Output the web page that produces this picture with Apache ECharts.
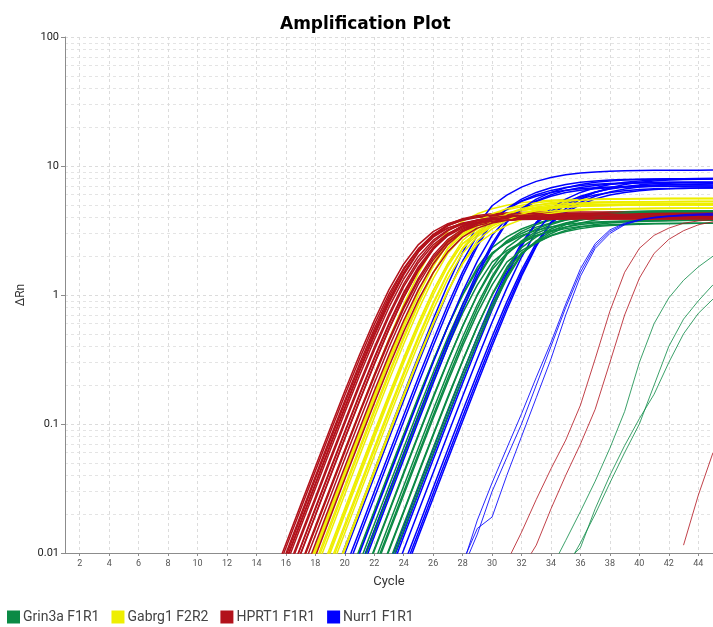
<!DOCTYPE html>
<html>
<head>
<meta charset="utf-8">
<script src="https://cdn.jsdelivr.net/npm/echarts@6/dist/echarts.min.js"></script>
<style>
html,body{margin:0;padding:0;background:#fff;}
#chart{width:713px;height:627px;}
</style>
</head>
<body>
<div id="chart"></div>
<script>
// ---------- data (ΔRn per cycle; each curve starts at its group's start cycle) ----------
const xTickLabels = [2,4,6,8,10,12,14,16,18,20,22,24,26,28,30,32,34,36,38,40,42,44];
const yTickLabels = [0.01,0.1,1,10,100];
const seriesNames = ['Grin3a F1R1','Gabrg1 F2R2','HPRT1 F1R1','Nurr1 F1R1'];

const hprt1Start = 14;
const hprt1 = [
 [0.003,0.0059,0.0118,0.0235,0.0466,0.092,0.18,0.344,0.634,1.1,1.74,2.46,3.1,3.57,3.86,4.02,4.11,4.15,4.18,4.19,4.2,4.2,4.2,4.2,4.2,4.2,4.2,4.2,4.2,4.2,4.2,4.2],
 [0.0028,0.0055,0.011,0.0218,0.0433,0.0854,0.167,0.319,0.589,1.02,1.61,2.29,2.88,3.31,3.58,3.73,3.81,3.86,3.88,3.89,3.9,3.9,3.9,3.9,3.9,3.9,3.9,3.9,3.9,3.9,3.9,3.9],
 [0.0024,0.0048,0.0094,0.0188,0.0374,0.074,0.145,0.279,0.52,0.92,1.49,2.17,2.81,3.3,3.62,3.8,3.9,3.95,3.97,3.99,4.0,4.0,4.0,4.0,4.0,4.0,4.0,4.0,4.0,4.0,4.0,4.0],
 [0.0025,0.005,0.0099,0.0197,0.0393,0.0777,0.152,0.293,0.546,0.966,1.57,2.28,2.95,3.47,3.8,3.99,4.09,4.15,4.17,4.19,4.2,4.2,4.2,4.2,4.2,4.2,4.2,4.2,4.2,4.2,4.2,4.2],
 [0.002,0.004,0.008,0.0159,0.0315,0.0624,0.123,0.238,0.448,0.804,1.33,2.0,2.66,3.2,3.55,3.76,3.88,3.94,3.97,3.98,3.99,4.0,4.0,4.0,4.0,4.0,4.0,4.0,4.0,4.0,4.0,4.0],
 [0.0022,0.0044,0.0088,0.0175,0.0346,0.0686,0.135,0.262,0.493,0.884,1.47,2.2,2.93,3.52,3.91,4.14,4.26,4.33,4.36,4.38,4.39,4.4,4.4,4.4,4.4,4.4,4.4,4.4,4.4,4.4,4.4,4.4],
 [0.0017,0.0034,0.0069,0.0137,0.0271,0.054,0.106,0.207,0.393,0.715,1.22,1.87,2.57,3.16,3.57,3.81,3.95,4.02,4.06,4.08,4.09,4.1,4.1,4.1,4.1,4.1,4.1,4.1,4.1,4.1,4.1,4.1],
 [0.0016,0.0033,0.0066,0.013,0.0258,0.0513,0.101,0.197,0.374,0.681,1.16,1.78,2.45,3.0,3.39,3.63,3.76,3.83,3.86,3.88,3.89,3.9,3.9,3.9,3.9,3.9,3.9,3.9,3.9,3.9,3.9,3.9],
 [0.0014,0.0028,0.0056,0.0112,0.0224,0.0444,0.0876,0.171,0.327,0.604,1.05,1.66,2.34,2.95,3.4,3.67,3.83,3.91,3.96,3.98,3.99,4.0,4.0,4.0,4.0,4.0,4.0,4.0,4.0,4.0,4.0,4.0],
 [0.0012,0.0025,0.0049,0.0098,0.0195,0.0388,0.0768,0.15,0.289,0.54,0.955,1.55,2.25,2.92,3.43,3.75,3.94,4.04,4.1,4.12,4.14,4.15,4.15,4.15,4.15,4.15,4.15,4.15,4.15,4.15,4.15,4.15],
 [0.001,0.002,0.0039,0.0078,0.0155,0.0307,0.0608,0.12,0.232,0.437,0.784,1.3,1.95,2.6,3.12,3.46,3.67,3.78,3.84,3.87,3.88,3.89,3.9,3.9,3.9,3.9,3.9,3.9,3.9,3.9,3.9,3.9],
 [0.0021,0.0043,0.0086,0.0171,0.0338,0.0671,0.132,0.256,0.482,0.864,1.43,2.15,2.86,3.44,3.82,4.05,4.17,4.23,4.27,4.28,4.29,4.3,4.3,4.3,4.3,4.3,4.3,4.3,4.3,4.3,4.3,4.3],
 [0.001,0.002,0.004,0.0081,0.0161,0.0319,0.0632,0.124,0.241,0.454,0.814,1.35,2.03,2.7,3.24,3.6,3.81,3.92,3.99,4.02,4.03,4.04,4.05,4.05,4.05,4.05,4.05,4.05,4.05,4.05,4.05,4.05],
 [0.0009,0.0017,0.0034,0.0069,0.0137,0.0271,0.054,0.106,0.207,0.393,0.715,1.22,1.87,2.57,3.16,3.57,3.81,3.95,4.02,4.06,4.08,4.09,4.1,4.1,4.1,4.1,4.1,4.1,4.1,4.1,4.1,4.1],
 [0.0008,0.0015,0.003,0.0059,0.0118,0.0235,0.0466,0.092,0.18,0.344,0.634,1.1,1.74,2.46,3.1,3.57,3.86,4.02,4.11,4.15,4.18,4.19,4.2,4.2,4.2,4.2,4.2,4.2,4.2,4.2,4.2,4.2],
 [0.0006,0.0012,0.0024,0.0048,0.0094,0.0188,0.0374,0.074,0.145,0.279,0.52,0.92,1.49,2.17,2.81,3.3,3.62,3.8,3.9,3.95,3.97,3.99,4.0,4.0,4.0,4.0,4.0,4.0,4.0,4.0,4.0,4.0],
 [0.0014,0.0028,0.0055,0.011,0.0218,0.0433,0.0854,0.167,0.319,0.589,1.02,1.61,2.29,2.88,3.31,3.58,3.73,3.81,3.86,3.88,3.89,3.9,3.9,3.9,3.9,3.9,3.9,3.9,3.9,3.9,3.9,3.9],
 [0.0012,0.0025,0.005,0.0099,0.0197,0.0393,0.0777,0.152,0.293,0.546,0.966,1.57,2.28,2.95,3.47,3.8,3.99,4.09,4.15,4.17,4.19,4.2,4.2,4.2,4.2,4.2,4.2,4.2,4.2,4.2,4.2,4.2]
];
const hprt1LateStart = 30;
const hprt1Late = [
 [0.005,0.0085,0.0145,0.026,0.045,0.075,0.14,0.32,0.75,1.5,2.3,2.9,3.3,3.6,3.75,3.85],
 [0.0035,0.005,0.0075,0.0115,0.022,0.04,0.07,0.13,0.3,0.7,1.35,2.1,2.7,3.15,3.5,3.7],
 [null,null,null,null,null,null,null,null,null,null,null,null,null,0.0115,0.028,0.06]
];

const gabrg1Start = 16;
const gabrg1 = [
 [0.004,0.0079,0.0157,0.0313,0.0622,0.123,0.24,0.458,0.846,1.47,2.32,3.12,3.73,4.26,4.66,4.97,5.19,5.33,5.43,5.49,5.53,5.56,5.57,5.58,5.59,5.6,5.6,5.6,5.6,5.6],
 [0.0028,0.0056,0.0111,0.0221,0.0439,0.087,0.17,0.328,0.611,1.08,1.75,2.49,3.01,3.47,3.84,4.12,4.31,4.45,4.54,4.6,4.63,4.66,4.67,4.68,4.69,4.7,4.7,4.7,4.7,4.7],
 [0.0026,0.0053,0.0105,0.021,0.0417,0.0827,0.163,0.315,0.594,1.07,1.76,2.65,3.25,3.79,4.23,4.57,4.82,4.99,5.1,5.17,5.22,5.25,5.27,5.28,5.29,5.29,5.3,5.3,5.3,5.3],
 [0.0025,0.005,0.00995,0.0199,0.0394,0.078,0.154,0.298,0.56,1.0,1.67,2.5,3.07,3.58,4.0,4.32,4.55,4.71,4.81,4.88,4.92,4.95,4.97,4.98,4.99,5.0,5.0,5.0,5.0,5.0],
 [0.0021,0.0042,0.0084,0.0167,0.0331,0.0658,0.13,0.252,0.479,0.873,1.49,2.29,2.93,3.46,3.9,4.25,4.5,4.67,4.79,4.87,4.91,4.95,4.97,4.98,4.99,5.0,5.0,5.0,5.0,5.0],
 [0.0018,0.0036,0.0072,0.0143,0.0285,0.0566,0.112,0.218,0.417,0.77,1.34,2.11,2.84,3.4,3.88,4.25,4.53,4.72,4.86,4.94,5.0,5.04,5.06,5.07,5.08,5.09,5.1,5.1,5.1,5.1],
 [0.002,0.004,0.0079,0.0157,0.0313,0.0622,0.123,0.24,0.458,0.846,1.47,2.32,3.12,3.73,4.26,4.66,4.97,5.19,5.33,5.43,5.49,5.53,5.56,5.57,5.58,5.59,5.6,5.6,5.6,5.6],
 [0.0014,0.0028,0.0056,0.0111,0.0221,0.0439,0.087,0.17,0.328,0.611,1.08,1.75,2.49,3.01,3.47,3.84,4.12,4.31,4.45,4.54,4.6,4.63,4.66,4.67,4.68,4.69,4.7,4.7,4.7,4.7],
 [0.0013,0.0026,0.0053,0.0105,0.021,0.0417,0.0827,0.163,0.315,0.594,1.07,1.76,2.65,3.25,3.79,4.23,4.57,4.82,4.99,5.1,5.17,5.22,5.25,5.27,5.28,5.29,5.29,5.3,5.3,5.3],
 [0.0012,0.0025,0.005,0.00995,0.0199,0.0394,0.078,0.154,0.298,0.56,1.0,1.67,2.5,3.07,3.58,4.0,4.32,4.55,4.71,4.81,4.88,4.92,4.95,4.97,4.98,4.99,5.0,5.0,5.0,5.0],
 [0.001,0.0021,0.0042,0.0084,0.0167,0.0331,0.0658,0.13,0.252,0.479,0.873,1.49,2.29,2.93,3.46,3.9,4.25,4.5,4.67,4.79,4.87,4.91,4.95,4.97,4.98,4.99,5.0,5.0,5.0,5.0],
 [0.0009,0.0018,0.0036,0.0072,0.0143,0.0285,0.0566,0.112,0.218,0.417,0.77,1.34,2.11,2.84,3.4,3.88,4.25,4.53,4.72,4.86,4.94,5.0,5.04,5.06,5.07,5.08,5.09,5.1,5.1,5.1],
 [0.0007,0.0014,0.0028,0.0056,0.0111,0.0221,0.0439,0.087,0.17,0.328,0.611,1.08,1.75,2.49,3.01,3.47,3.84,4.12,4.31,4.45,4.54,4.6,4.63,4.66,4.67,4.68,4.69,4.7,4.7,4.7],
 [0.001,0.002,0.004,0.0079,0.0157,0.0313,0.0622,0.123,0.24,0.458,0.846,1.47,2.32,3.12,3.73,4.26,4.66,4.97,5.19,5.33,5.43,5.49,5.53,5.56,5.57,5.58,5.59,5.6,5.6,5.6],
 [0.0007,0.0013,0.0026,0.0053,0.0105,0.021,0.0417,0.0827,0.163,0.315,0.594,1.07,1.76,2.65,3.25,3.79,4.23,4.57,4.82,4.99,5.1,5.17,5.22,5.25,5.27,5.28,5.29,5.29,5.3,5.3]
];

const grin3aStart = 19;
const grin3a = [
 [0.0026,0.0052,0.0104,0.0207,0.0411,0.0814,0.159,0.307,0.572,1.01,1.64,2.33,2.82,3.25,3.59,3.85,4.04,4.17,4.25,4.3,4.34,4.36,4.38,4.39,4.39,4.4,4.4],
 [0.0027,0.0054,0.0107,0.0212,0.0422,0.0832,0.163,0.311,0.574,1.0,1.57,2.12,2.53,2.89,3.17,3.37,3.52,3.62,3.68,3.72,3.75,3.77,3.78,3.79,3.79,3.8,3.8],
 [0.0021,0.0042,0.0084,0.0167,0.0331,0.0655,0.129,0.25,0.47,0.844,1.4,2.1,2.57,3.0,3.36,3.62,3.82,3.95,4.04,4.1,4.13,4.16,4.17,4.18,4.19,4.2,4.2],
 [0.0019,0.0038,0.0076,0.015,0.0298,0.0592,0.117,0.227,0.431,0.785,1.34,2.06,2.63,3.11,3.51,3.82,4.05,4.2,4.31,4.38,4.42,4.45,4.47,4.48,4.49,4.49,4.5],
 [0.0014,0.0027,0.0054,0.0107,0.0212,0.0422,0.0832,0.163,0.311,0.574,1.0,1.57,2.12,2.53,2.89,3.17,3.37,3.52,3.62,3.68,3.72,3.75,3.77,3.78,3.79,3.79,3.8],
 [0.0013,0.0026,0.0052,0.0104,0.0207,0.0411,0.0814,0.159,0.307,0.572,1.01,1.64,2.33,2.82,3.25,3.59,3.85,4.04,4.17,4.25,4.3,4.34,4.36,4.38,4.39,4.39,4.4],
 [0.0018,0.0036,0.0072,0.0143,0.0283,0.0562,0.111,0.214,0.403,0.724,1.2,1.8,2.21,2.57,2.88,3.11,3.27,3.39,3.46,3.51,3.54,3.56,3.58,3.59,3.6,3.6,3.6],
 [0.0011,0.0021,0.0042,0.0084,0.0167,0.0331,0.0655,0.129,0.25,0.47,0.844,1.4,2.1,2.57,3.0,3.36,3.62,3.82,3.95,4.04,4.1,4.13,4.16,4.17,4.18,4.19,4.2],
 [0.001,0.0019,0.0038,0.0076,0.015,0.0298,0.0592,0.117,0.227,0.431,0.785,1.34,2.06,2.63,3.11,3.51,3.82,4.05,4.2,4.31,4.38,4.42,4.45,4.47,4.48,4.49,4.49],
 [0.0007,0.0014,0.0027,0.0054,0.0107,0.0212,0.0422,0.0832,0.163,0.311,0.574,1.0,1.57,2.12,2.53,2.89,3.17,3.37,3.52,3.62,3.68,3.72,3.75,3.77,3.78,3.79,3.79],
 [0.0007,0.0013,0.0026,0.0052,0.0104,0.0207,0.0411,0.0814,0.159,0.307,0.572,1.01,1.64,2.33,2.82,3.25,3.59,3.85,4.04,4.17,4.25,4.3,4.34,4.36,4.38,4.39,4.39],
 [0.0009,0.0018,0.0036,0.0072,0.0143,0.0283,0.0562,0.111,0.214,0.403,0.724,1.2,1.8,2.21,2.57,2.88,3.11,3.27,3.39,3.46,3.51,3.54,3.56,3.58,3.59,3.6,3.6],
 [0.0005,0.0011,0.0021,0.0042,0.0084,0.0167,0.0331,0.0655,0.129,0.25,0.47,0.844,1.4,2.1,2.57,3.0,3.36,3.62,3.82,3.95,4.04,4.1,4.13,4.16,4.17,4.18,4.19],
 [0.0005,0.001,0.0019,0.0038,0.0076,0.015,0.0298,0.0592,0.117,0.227,0.431,0.785,1.34,2.06,2.63,3.11,3.51,3.82,4.05,4.2,4.31,4.38,4.42,4.45,4.47,4.48,4.49]
];
const grin3aLateStart = 33;
const grin3aLate = [
 [0.005,0.0075,0.0125,0.021,0.036,0.065,0.125,0.3,0.6,0.95,1.3,1.65,2.0],
 [null,0.0045,0.0075,0.012,0.02,0.035,0.06,0.1,0.2,0.4,0.65,0.9,1.2],
 [null,null,0.0085,0.011,0.022,0.04,0.068,0.11,0.17,0.3,0.5,0.72,0.93]
];

const nurr1Start = 18;
const nurr1 = [
 [0.0025,0.005,0.0099,0.0197,0.0391,0.0777,0.153,0.3,0.573,1.06,1.83,2.9,3.9,4.66,5.32,5.83,6.22,6.48,6.66,6.78,6.86,6.91,6.94,6.97,6.98,6.99,6.99,7.0],
 [0.0028,0.0056,0.0111,0.0219,0.0437,0.087,0.172,0.337,0.648,1.21,2.14,3.47,4.92,5.95,6.86,7.6,8.15,8.54,8.81,8.98,9.1,9.17,9.22,9.25,9.27,9.28,9.29,9.3],
 [0.0019,0.0038,0.0075,0.0149,0.0298,0.059,0.117,0.23,0.446,0.84,1.51,2.5,3.75,4.6,5.36,5.99,6.47,6.82,7.06,7.22,7.32,7.38,7.43,7.45,7.47,7.48,7.49,7.49],
 [0.0017,0.0034,0.0067,0.0134,0.0267,0.053,0.105,0.207,0.403,0.766,1.4,2.38,3.66,4.68,5.53,6.24,6.79,7.19,7.47,7.66,7.78,7.86,7.91,7.94,7.96,7.98,7.99,7.99],
 [0.0012,0.0025,0.005,0.0099,0.0197,0.0391,0.0777,0.153,0.3,0.573,1.06,1.83,2.9,3.9,4.66,5.32,5.83,6.22,6.48,6.66,6.78,6.86,6.91,6.94,6.97,6.98,6.99,6.99],
 [0.001,0.0019,0.0038,0.0075,0.0149,0.0298,0.059,0.117,0.23,0.446,0.84,1.51,2.5,3.75,4.6,5.36,5.99,6.47,6.82,7.06,7.22,7.32,7.38,7.43,7.45,7.47,7.48,7.49],
 [0.0008,0.0017,0.0034,0.0067,0.0134,0.0267,0.053,0.105,0.207,0.403,0.766,1.4,2.38,3.66,4.68,5.53,6.24,6.79,7.19,7.47,7.66,7.78,7.86,7.91,7.94,7.96,7.98,7.99]
];
const nurr1MidStart = 21;
const nurr1Mid = [
 [0.002,0.0041,0.0081,0.016,0.032,0.0636,0.126,0.246,0.474,0.884,1.56,2.54,3.6,4.35,5.02,5.56,5.96,6.24,6.44,6.57,6.65,6.7,6.74,6.76,6.77],
 [0.0018,0.0037,0.0073,0.0145,0.029,0.0575,0.114,0.224,0.434,0.818,1.47,2.43,3.65,4.47,5.22,5.83,6.3,6.64,6.87,7.02,7.12,7.19,7.23,7.25,7.27],
 [0.0017,0.0034,0.0067,0.0134,0.0267,0.053,0.105,0.207,0.403,0.766,1.4,2.38,3.66,4.68,5.53,6.24,6.79,7.19,7.47,7.66,7.78,7.86,7.91,7.94,7.96],
 [0.0013,0.0026,0.0053,0.0106,0.0211,0.0419,0.0833,0.164,0.321,0.614,1.13,1.97,3.11,4.18,5.0,5.7,6.25,6.66,6.95,7.14,7.27,7.35,7.41,7.44,7.46],
 [0.001,0.002,0.0041,0.0081,0.016,0.032,0.0636,0.126,0.246,0.474,0.884,1.56,2.54,3.6,4.35,5.02,5.56,5.96,6.24,6.44,6.57,6.65,6.7,6.74,6.76],
 [0.0009,0.0018,0.0037,0.0073,0.0145,0.029,0.0575,0.114,0.224,0.434,0.818,1.47,2.43,3.65,4.47,5.22,5.83,6.3,6.64,6.87,7.02,7.12,7.19,7.23,7.25],
 [0.0008,0.0017,0.0034,0.0067,0.0134,0.0267,0.053,0.105,0.207,0.403,0.766,1.4,2.38,3.66,4.68,5.53,6.24,6.79,7.19,7.47,7.66,7.78,7.86,7.91,7.94]
];
const nurr1LateStart = 27;
const nurr1Late = [
 [0.005,0.0085,0.0155,0.019,0.04,0.08,0.16,0.32,0.7,1.4,2.3,3.0,3.5,3.8,4.0,4.1,4.2,4.25,4.3],
 [0.004,0.008,0.018,0.035,0.065,0.12,0.23,0.43,0.85,1.6,2.5,3.2,3.6,3.85,4.0,4.1,4.15,4.2,4.2],
 [0.0045,0.0075,0.014,0.03,0.055,0.1,0.2,0.4,0.8,1.5,2.4,3.1,3.55,3.8,3.95,4.05,4.1,4.15,4.15]
];

// ---------- styling ----------
const colors = { 'Grin3a F1R1':'#0b8a45', 'Gabrg1 F2R2':'#eeee00', 'HPRT1 F1R1':'#b2121b', 'Nurr1 F1R1':'#0000ff' };

function buildSeries(name, start, curves, width, opacity) {
  return curves.map(function (vals) {
    const pts = [];
    vals.forEach(function (v, i) { if (v !== null) pts.push([start + i, v]); });
    return {
      type: 'line', name: name, data: pts, showSymbol: false, symbol: 'none',
      silent: true, animation: false, clip: true,
      lineStyle: { color: colors[name], width: width, opacity: opacity },
      itemStyle: { color: colors[name] },
      emphasis: { disabled: true }
    };
  });
}

const minorY = [];
[0.01, 0.1, 1, 10].forEach(function (d) { for (let k = 2; k <= 9; k++) minorY.push(+(d * k).toPrecision(3)); });

// interleave the wells so the colours overlap like a real multi-well plot
const groups = [
  buildSeries('Grin3a F1R1', grin3aStart, grin3a, 1.5, 1),
  buildSeries('Gabrg1 F2R2', gabrg1Start, gabrg1, 1.5, 1),
  buildSeries('Nurr1 F1R1', nurr1Start, nurr1, 1.5, 1),
  buildSeries('HPRT1 F1R1', hprt1Start, hprt1, 1.5, 1),
  buildSeries('Nurr1 F1R1', nurr1MidStart, nurr1Mid, 1.5, 1)
];
const series = [];
const maxLen = Math.max.apply(null, groups.map(function (g) { return g.length; }));
for (let i = 0; i < maxLen; i++) groups.forEach(function (g) { if (g[i]) series.push(g[i]); });
[].concat(
  buildSeries('Grin3a F1R1', grin3aLateStart, grin3aLate, 1, 0.8),
  buildSeries('Nurr1 F1R1', nurr1LateStart, nurr1Late, 1, 0.85),
  buildSeries('HPRT1 F1R1', hprt1LateStart, hprt1Late, 1, 0.8)
).forEach(function (s) { series.push(s); });

const chart = echarts.init(document.getElementById('chart'), null, { renderer: 'canvas' });
chart.setOption({
  animation: false,
  backgroundColor: '#ffffff',
  title: {
    text: 'Amplification Plot', left: 275, top: 11,
    textStyle: { fontSize: 17, fontWeight: 'bold', color: '#000', fontFamily: 'DejaVu Sans, Verdana, sans-serif' }
  },
  legend: {
    data: seriesNames.map(function (n) { return { name: n, icon: 'rect', itemStyle: { color: colors[n] } }; }),
    left: 2, top: 605, itemWidth: 13, itemHeight: 13, itemGap: 12,
    textStyle: { fontSize: 14, color: '#444', fontFamily: 'Roboto, sans-serif', padding: [0, 0, 0, -2] },
    selectedMode: false
  },
  grid: { left: 65, top: 37, width: 651, height: 516, containLabel: false },
  xAxis: {
    type: 'value', min: 1, max: 45,
    name: 'Cycle', nameLocation: 'middle', nameGap: 22,
    nameTextStyle: { fontSize: 13, color: '#333', fontFamily: 'Roboto, sans-serif' },
    axisLine: { show: true, lineStyle: { color: '#8c8c8c', width: 1 } },
    axisTick: { show: true, length: 3, customValues: xTickLabels, lineStyle: { color: '#8c8c8c' } },
    axisLabel: { customValues: xTickLabels, fontSize: 9, color: '#555', margin: 6, fontFamily: 'Roboto, sans-serif' },
    splitLine: { show: true, lineStyle: { color: '#dcdcdc', type: [3, 3], width: 1 } }
  },
  yAxis: [{
    type: 'log', logBase: 10, min: 0.01, max: 100,
    name: 'ΔRn', nameLocation: 'middle', nameGap: 36, nameRotate: 90,
    nameTextStyle: { fontSize: 12, color: '#333', fontFamily: 'Roboto, sans-serif' },
    axisLine: { show: true, lineStyle: { color: '#8c8c8c', width: 1 } },
    axisTick: { show: true, length: 4, customValues: yTickLabels, lineStyle: { color: '#8c8c8c' } },
    axisLabel: { customValues: yTickLabels, fontSize: 11, color: '#222', margin: 6, fontFamily: 'Roboto, sans-serif' },
    splitLine: { show: true, lineStyle: { color: '#dcdcdc', type: [3, 3], width: 1 } }
  }, {
    type: 'log', logBase: 10, min: 0.01, max: 100, position: 'left',
    axisLine: { show: false }, axisLabel: { show: false },
    axisTick: { show: false, customValues: minorY },
    splitLine: { show: true, lineStyle: { color: '#e4e4e4', type: [3, 3], width: 1 } }
  }],
  series: series
});
</script>
</body>
</html>
